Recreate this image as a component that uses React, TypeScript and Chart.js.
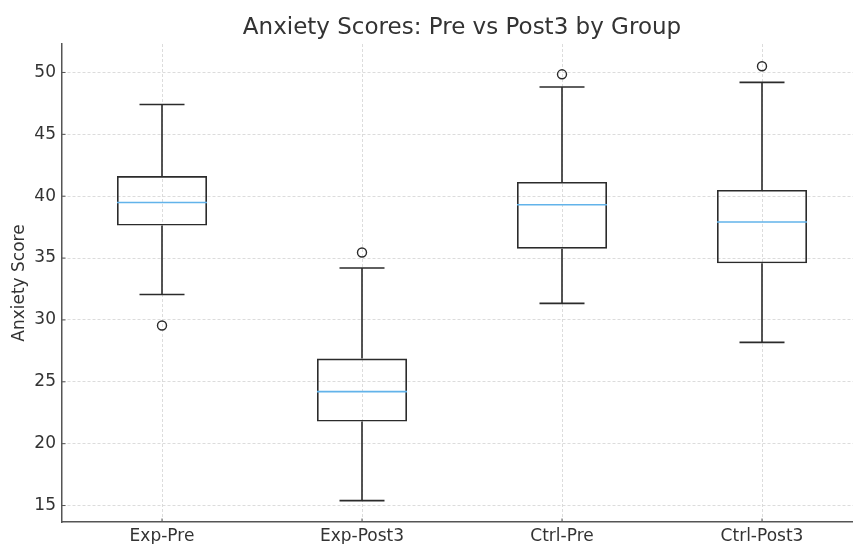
import React, { useEffect, useRef } from "react";
import { Chart, registerables } from "chart.js";

Chart.register(...registerables);

const categories = ["Exp-Pre", "Exp-Post3", "Ctrl-Pre", "Ctrl-Post3"];
const whiskerLow = [32.05, 15.4, 31.34, 28.19];
const q1 = [37.63, 21.79, 35.76, 34.58];
const median = [39.49, 24.21, 39.31, 37.91];
const q3 = [41.63, 26.88, 41.15, 40.5];
const whiskerHigh = [47.41, 34.2, 48.83, 49.2];
const outliers = [[29.55], [35.45], [49.85], [50.5]];
const yTicks = [15, 20, 25, 30, 35, 40, 45, 50];

const FONT = "'DejaVu Sans', sans-serif";
const LINE = "#2b2b2b";
const MEDIAN = "#62b3ea";
const SPINE = "#555555";

const boxPlugin = {
  id: "boxExtras",
  afterDatasetsDraw(chart: any) {
    const { ctx, scales } = chart;
    const xs = scales.x;
    const ys = scales.y;
    const bw = xs.getPixelForValue(1.225) - xs.getPixelForValue(1);
    const cw = xs.getPixelForValue(1.1125) - xs.getPixelForValue(1);
    ctx.save();
    ctx.lineCap = "butt";
    categories.forEach((_, i) => {
      const cx = xs.getPixelForValue(i + 1);
      ctx.strokeStyle = LINE;
      ctx.lineWidth = 1.6;
      ctx.beginPath();
      ctx.moveTo(cx, ys.getPixelForValue(q3[i]));
      ctx.lineTo(cx, ys.getPixelForValue(whiskerHigh[i]));
      ctx.moveTo(cx, ys.getPixelForValue(q1[i]));
      ctx.lineTo(cx, ys.getPixelForValue(whiskerLow[i]));
      const yh = ys.getPixelForValue(whiskerHigh[i]);
      const yl = ys.getPixelForValue(whiskerLow[i]);
      ctx.moveTo(cx - cw, yh);
      ctx.lineTo(cx + cw, yh);
      ctx.moveTo(cx - cw, yl);
      ctx.lineTo(cx + cw, yl);
      ctx.stroke();
      ctx.strokeStyle = MEDIAN;
      ctx.beginPath();
      const ym = ys.getPixelForValue(median[i]);
      ctx.moveTo(cx - bw, ym);
      ctx.lineTo(cx + bw, ym);
      ctx.stroke();
    });
    ctx.restore();
  },
  afterDraw(chart: any) {
    const { ctx, scales, chartArea } = chart;
    ctx.save();
    ctx.strokeStyle = SPINE;
    ctx.lineWidth = 1;
    ctx.beginPath();
    scales.y.ticks.forEach((t: any) => {
      const y = scales.y.getPixelForValue(t.value);
      ctx.moveTo(chartArea.left, y);
      ctx.lineTo(chartArea.left + 3.5, y);
    });
    scales.x.ticks.forEach((t: any) => {
      const x = scales.x.getPixelForValue(t.value);
      ctx.moveTo(x, chartArea.bottom);
      ctx.lineTo(x, chartArea.bottom - 3.5);
    });
    ctx.stroke();
    ctx.restore();
  },
};

export default function App() {
  const ref = useRef<HTMLCanvasElement>(null);
  useEffect(() => {
    if (!ref.current) return;
    const boxData = categories.map((_, i) => ({ x: i + 1, y: [q1[i], q3[i]] }));
    const outlierData: { x: number; y: number }[] = [];
    outliers.forEach((arr, i) => arr.forEach((v) => outlierData.push({ x: i + 1, y: v })));
    const chart = new Chart(ref.current, {
      type: "bar",
      data: {
        datasets: [
          {
            type: "bar",
            data: boxData as any,
            backgroundColor: "rgba(0,0,0,0)",
            borderColor: LINE,
            borderWidth: 1.6,
            borderSkipped: false,
            barPercentage: 0.45,
            categoryPercentage: 1,
          },
          {
            type: "scatter",
            data: outlierData,
            pointStyle: "circle",
            pointRadius: 4.5,
            pointBackgroundColor: "rgba(0,0,0,0)",
            pointBorderColor: LINE,
            pointBorderWidth: 1.4,
          } as any,
        ],
      },
      options: {
        responsive: false,
        animation: false,
        layout: { padding: { top: 0, right: 8, bottom: 0, left: 0 } },
        plugins: {
          legend: { display: false },
          tooltip: { enabled: false },
          title: {
            display: true,
            text: "Anxiety Scores: Pre vs Post3 by Group",
            fullSize: false,
            color: "#333333",
            font: { family: FONT, size: 23, weight: "normal" },
            padding: { top: 14, bottom: 2.4 },
          },
        },
        scales: {
          x: {
            type: "linear",
            min: 0.5,
            max: 4.5,
            offset: false,
            afterBuildTicks: (s: any) => {
              s.ticks = categories.map((_, i) => ({ value: i + 1 }));
            },
            afterFit: (s: any) => {
              s.height = 22;
            },
            ticks: {
              callback: (v: any) => categories[Number(v) - 1] ?? "",
              color: "#333333",
              font: { family: FONT, size: 17 },
              padding: 4,
              maxRotation: 0,
              autoSkip: false,
            },
            grid: { color: "#d3d3d3", lineWidth: 0.8, drawTicks: false, offset: false },
            border: { display: true, color: SPINE, width: 1.5, dash: [3, 2] },
          },
          y: {
            type: "linear",
            min: 13.67,
            max: 52.3,
            afterBuildTicks: (s: any) => {
              s.ticks = yTicks.map((v) => ({ value: v }));
            },
            afterFit: (s: any) => {
              s.width = 62;
            },
            ticks: {
              color: "#333333",
              font: { family: FONT, size: 17 },
              padding: 6,
            },
            grid: { color: "#d3d3d3", lineWidth: 0.8, drawTicks: false },
            border: { display: true, color: SPINE, width: 1.5, dash: [3, 2] },
            title: {
              display: true,
              text: "Anxiety Score",
              color: "#333333",
              font: { family: FONT, size: 17 },
              padding: { top: 9.5, bottom: 0 },
            },
          },
        },
      },
      plugins: [boxPlugin],
    });
    return () => chart.destroy();
  }, []);
  return (
    <div
      style={{
        position: "fixed",
        left: 0,
        top: 0,
        width: 853,
        height: 544,
        overflow: "hidden",
        background: "#fff",
      }}
    >
      <canvas ref={ref} width={870} height={544} style={{ width: 870, height: 544 }} />
    </div>
  );
}
